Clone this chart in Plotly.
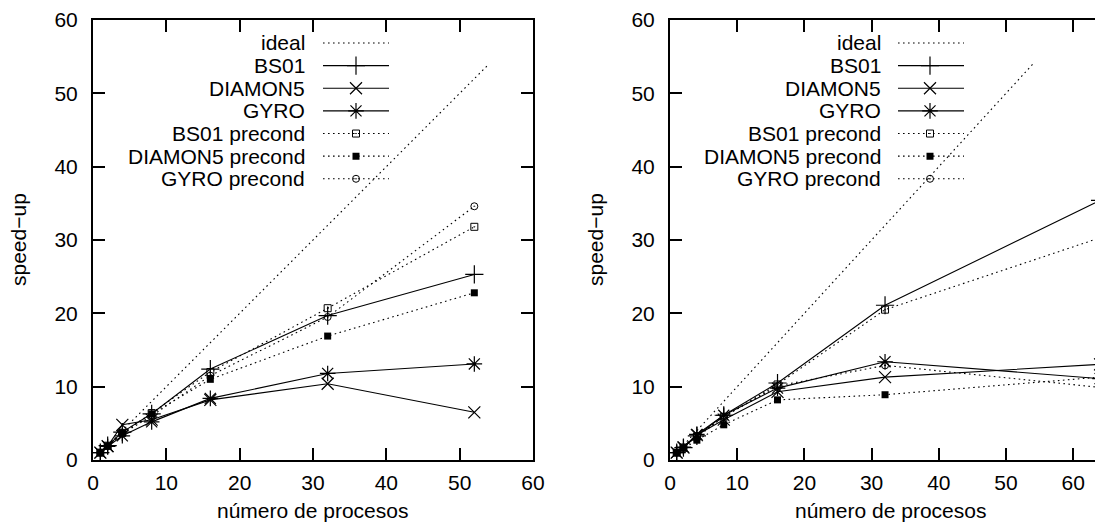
import plotly.graph_objects as go

W, H = 1095, 524
FONT = "Liberation Sans, Arial, sans-serif"

# ---------------- data ----------------
x_left = [1, 2, 4, 8, 16, 32, 52]
x_right = [1, 2, 4, 8, 16, 32, 64]
ideal_x = [1, 54]
ideal_y = [1, 54]

left_bs01 = [1, 1.95, 3.8, 6.3, 12.4, 19.7, 25.3]
left_diamon5 = [1, 1.9, 4.8, 5.5, 8.2, 10.4, 6.5]
left_gyro = [1, 1.85, 3.3, 5.2, 8.4, 11.8, 13.1]
left_bs01_pre = [1, 1.95, 3.7, 6.4, 12.0, 20.7, 31.8]
left_diamon5_pre = [1, 1.9, 3.7, 6.3, 11.0, 16.9, 22.8]
left_gyro_pre = [1, 1.9, 3.6, 6.0, 11.5, 19.5, 34.6]

right_bs01 = [1, 1.7, 3.3, 6.1, 10.5, 21.1, 35.4]
right_diamon5 = [1, 1.7, 3.4, 5.5, 9.3, 11.3, 13.05]
right_gyro = [1, 1.75, 3.5, 6.1, 9.8, 13.4, 11.1]
right_bs01_pre = [1, 1.7, 3.2, 5.9, 10.3, 20.5, 30.3]
right_diamon5_pre = [1, 1.6, 2.7, 4.8, 8.2, 8.9, 11.3]
right_gyro_pre = [1, 1.7, 3.3, 5.9, 10.1, 12.9, 9.9]

labels = ["ideal", "BS01", "DIAMON5", "GYRO", "BS01 precond", "DIAMON5 precond", "GYRO precond"]
x_ticks = [0, 10, 20, 30, 40, 50, 60]
y_ticks = [0, 10, 20, 30, 40, 50, 60]

# ---------------- styles ----------------
DOT = "1.6px,3.4px"
styles = {
    "ideal": dict(line=dict(color="black", width=1.1, dash=DOT), marker=dict(size=1, color="rgba(0,0,0,0)"), mode="lines"),
    "BS01": dict(line=dict(color="black", width=1.1), marker=dict(symbol="cross-thin", size=13, line=dict(width=1.2, color="black"), color="black"), mode="lines+markers"),
    "DIAMON5": dict(line=dict(color="black", width=1.1), marker=dict(symbol="x-thin", size=12, line=dict(width=1.2, color="black"), color="black"), mode="lines+markers"),
    "GYRO": dict(line=dict(color="black", width=1.1), marker=dict(symbol="asterisk", size=13, line=dict(width=1.2, color="black"), color="black"), mode="lines+markers"),
    "BS01 precond": dict(line=dict(color="black", width=1.1, dash=DOT), marker=dict(symbol="square-open-dot", size=7, line=dict(width=1, color="black"), color="black"), mode="lines+markers"),
    "DIAMON5 precond": dict(line=dict(color="black", width=1.1, dash=DOT), marker=dict(symbol="square", size=7, color="black"), mode="lines+markers"),
    "GYRO precond": dict(line=dict(color="black", width=1.1, dash=DOT), marker=dict(symbol="circle-open-dot", size=7, line=dict(width=1, color="black"), color="black"), mode="lines+markers"),
}
solid_names = {"BS01", "DIAMON5", "GYRO"}

# ---------------- layout geometry (pixels) ----------------
L_X0, L_X1 = 93, 533
R_X0 = 670
Y_TOP, Y_BOT = 20, 460
R_XMAX = (W - R_X0) / 6.72

fig = go.Figure()

series_left = [ideal_y, left_bs01, left_diamon5, left_gyro, left_bs01_pre, left_diamon5_pre, left_gyro_pre]
series_right = [ideal_y, right_bs01, right_diamon5, right_gyro, right_bs01_pre, right_diamon5_pre, right_gyro_pre]

for name, ys in zip(labels, series_left):
    st = styles[name]
    xs = ideal_x if name == "ideal" else x_left
    fig.add_trace(go.Scatter(x=xs, y=ys, mode=st["mode"], line=st["line"], marker=st["marker"],
                             showlegend=False, xaxis="x", yaxis="y", cliponaxis=False))
for name, ys in zip(labels, series_right):
    st = styles[name]
    xs = ideal_x if name == "ideal" else x_right
    fig.add_trace(go.Scatter(x=xs, y=ys, mode=st["mode"], line=st["line"], marker=st["marker"],
                             showlegend=False, xaxis="x2", yaxis="y2", cliponaxis=True))

# legend-only entries (markers only; sample lines drawn as shapes)
for leg in ["legend", "legend2"]:
    for name in labels:
        st = styles[name]
        mk = dict(st["marker"])
        fig.add_trace(go.Scatter(x=[None], y=[None], mode="markers", marker=mk, name=name,
                                 showlegend=True, legend=leg,
                                 xaxis="x" if leg == "legend" else "x2",
                                 yaxis="y" if leg == "legend" else "y2"))

ROW0, ROWH = 43, 22.63
LEG_FONT = 15.1  # -> item height 22.63 px
TXT = 21
shapes = []
annotations = []
for side, (text_right, samp0, samp1) in {"L": (307, 323, 389), "R": (883, 898, 964)}.items():
    for i, name in enumerate(labels):
        py = ROW0 + ROWH * i
        yp = 1 - py / H
        dash = "solid" if name in solid_names else DOT
        shapes.append(dict(type="line", xref="paper", yref="paper",
                           x0=samp0 / W, x1=samp1 / W, y0=yp, y1=yp,
                           line=dict(color="black", width=1.1, dash=dash)))
        annotations.append(dict(text=name, xref="paper", yref="paper", x=text_right / W, y=yp,
                                xanchor="right", yanchor="middle", showarrow=False,
                                font=dict(family=FONT, size=TXT, color="black")))

# axis titles
for cx in [(L_X0 + L_X1) / 2, R_X0 + 440 / 2]:
    annotations.append(dict(text="número de procesos", xref="paper", yref="paper", x=cx / W, y=1 - 510 / H,
                            xanchor="center", yanchor="middle", showarrow=False,
                            font=dict(family=FONT, size=TXT, color="black")))
for cx in [18, 595]:
    annotations.append(dict(text="speed−up", xref="paper", yref="paper", x=cx / W, y=1 - 240 / H,
                            xanchor="center", yanchor="middle", showarrow=False, textangle=-90,
                            font=dict(family=FONT, size=TXT, color="black")))

axis_common = dict(showline=True, linewidth=2, linecolor="black", ticks="inside", ticklen=12,
                   tickwidth=1.5, tickcolor="black", showgrid=False, zeroline=False,
                   tickfont=dict(family=FONT, size=TXT, color="black"), automargin=False)

fig.update_layout(
    width=W, height=H, margin=dict(l=0, r=0, t=0, b=0, autoexpand=False),
    paper_bgcolor="white", plot_bgcolor="white",
    xaxis=dict(domain=[L_X0 / W, L_X1 / W], range=[0, 60], tickvals=x_ticks, mirror="ticks", anchor="y",
               ticklabelstandoff=3, **axis_common),
    yaxis=dict(domain=[1 - Y_BOT / H, 1 - Y_TOP / H], range=[0, 60], tickvals=y_ticks, mirror="ticks", anchor="x",
               ticklabelstandoff=9, **axis_common),
    xaxis2=dict(domain=[R_X0 / W, 1.0], range=[0, R_XMAX], tickvals=x_ticks, mirror="ticks", anchor="y2",
                ticklabelstandoff=3, **axis_common),
    yaxis2=dict(domain=[1 - Y_BOT / H, 1 - Y_TOP / H], range=[0, 60], tickvals=y_ticks, mirror=False, anchor="x2",
                ticklabelstandoff=9, **axis_common),
    legend=dict(x=(356 - 20) / W, y=1 - (ROW0 - 16.3) / H, xanchor="left", yanchor="top",
                bgcolor="rgba(0,0,0,0)", borderwidth=0, font=dict(family=FONT, size=LEG_FONT, color="rgba(0,0,0,0)")),
    legend2=dict(x=(930 - 20) / W, y=1 - (ROW0 - 16.3) / H, xanchor="left", yanchor="top",
                 bgcolor="rgba(0,0,0,0)", borderwidth=0, font=dict(family=FONT, size=LEG_FONT, color="rgba(0,0,0,0)")),
    shapes=shapes, annotations=annotations,
)

fig.write_html("out.html")
